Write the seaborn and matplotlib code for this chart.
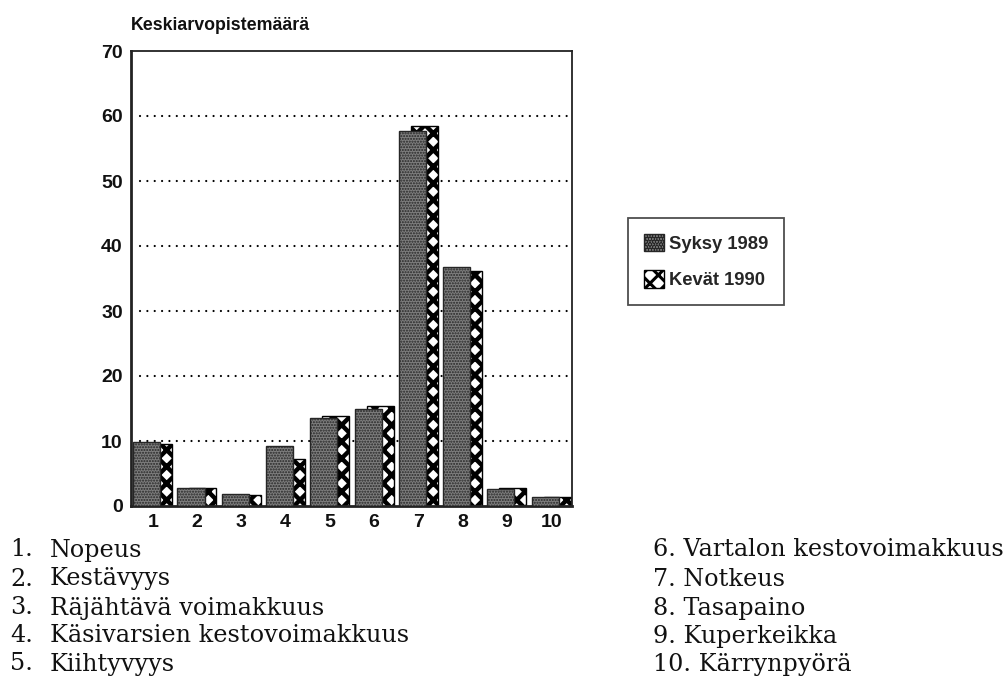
import numpy as np
import pandas as pd
import matplotlib
matplotlib.use("Agg")
import matplotlib.pyplot as plt
from matplotlib.patches import Patch
import seaborn as sns

# Test items (x-axis categories) and mean scores per measurement round
categories = ["1", "2", "3", "4", "5", "6", "7", "8", "9", "10"]
syksy_1989 = [9.9, 2.7, 1.9, 9.2, 13.6, 14.9, 57.7, 36.8, 2.6, 1.4]
kevat_1990 = [9.6, 2.8, 1.7, 7.2, 13.9, 15.4, 58.5, 36.2, 2.8, 1.4]
series_names = ["Syksy 1989", "Kevät 1990"]
y_ticks = [0, 10, 20, 30, 40, 50, 60, 70]
y_title = "Keskiarvopistemäärä"
items_left = ["Nopeus", "Kestävyys", "Räjähtävä voimakkuus",
              "Käsivarsien kestovoimakkuus", "Kiihtyvyys"]
items_right = ["Vartalon kestovoimakkuus", "Notkeus", "Tasapaino",
               "Kuperkeikka", "Kärrynpyörä"]

sns.set_theme(style="white")
plt.rcParams["font.family"] = ["Liberation Sans", "DejaVu Sans"]

W, H = 1007, 679
fig = plt.figure(figsize=(W / 100, H / 100), dpi=100)
ax = fig.add_axes([131 / W, 1 - 506 / H, (572 - 131) / W, (506 - 51) / H])

idx = np.arange(len(categories))
offset = 0.135
bar_w = 0.61

df = pd.DataFrame({
    "pos_s": idx - offset, "pos_k": idx + offset,
    "syksy": syksy_1989, "kevat": kevat_1990,
})

style_s = dict(facecolor="#7e7e7e", edgecolor="#262626", hatch="......", linewidth=1.0)
style_k = dict(facecolor="white", edgecolor="black", hatch="xx", linewidth=1.0)

# Spring bars sit behind the autumn bars (overlapping clusters)
with plt.rc_context({"hatch.linewidth": 3.2}):
    sns.barplot(data=df, x="pos_k", y="kevat", native_scale=True, width=bar_w,
                errorbar=None, ax=ax, zorder=2, **style_k)
with plt.rc_context({"hatch.linewidth": 1.0}):
    sns.barplot(data=df, x="pos_s", y="syksy", native_scale=True, width=bar_w,
                errorbar=None, ax=ax, zorder=3, **style_s)

ax.set_xlim(-0.49, 9.47)
ax.set_ylim(0, 70)
ax.set_xticks(idx, categories)
ax.set_yticks(y_ticks)
ax.set_xlabel("")
ax.set_ylabel("")
ax.tick_params(axis="both", length=0, labelsize=14, pad=6)
for lab in ax.get_xticklabels() + ax.get_yticklabels():
    lab.set_fontweight("bold")
    lab.set_color("#111111")

# dotted horizontal reference lines
for y in y_ticks[1:-1]:
    ax.axhline(y, xmin=0.02, xmax=1, color="black", linewidth=1.6,
               linestyle=(0, (0.01, 3.3)), dash_capstyle="round", zorder=1)

for side, lw in [("left", 2.0), ("bottom", 2.0), ("top", 1.3), ("right", 1.3)]:
    ax.spines[side].set_visible(True)
    ax.spines[side].set_color("#222222")
    ax.spines[side].set_linewidth(lw)

fig.text(131 / W, 1 - 25 / H, y_title, fontsize=12.8, fontweight="bold",
         ha="left", va="center", color="#111111")

# legend
handles = [Patch(**style_s), Patch(**style_k)]
with plt.rc_context({"hatch.linewidth": 2.2}):
    leg = fig.legend(handles, series_names, loc="upper left",
                     bbox_to_anchor=(628 / W, 1 - 218 / H), borderaxespad=0,
                     frameon=True, fancybox=False, shadow=False,
                     prop={"family": "Liberation Sans", "weight": "bold", "size": 13.2},
                     handlelength=1.1, handleheight=1.1, handletextpad=0.3,
                     labelspacing=0.95, borderpad=0.85)
leg.get_frame().set_edgecolor("#222222")
leg.get_frame().set_linewidth(1.3)

# item explanations below the chart
serif = ["DejaVu Serif"]
row_y = [550, 579, 608, 636, 664]
for i, (name, y) in enumerate(zip(items_left, row_y)):
    fig.text(10 / W, 1 - y / H, f"{i + 1}.", fontsize=17.2, family=serif,
             ha="left", va="center", color="#111111")
    fig.text(50 / W, 1 - y / H, name, fontsize=17.2, family=serif,
             ha="left", va="center", color="#111111")
for i, (name, y) in enumerate(zip(items_right, row_y)):
    fig.text(653 / W, 1 - y / H, f"{i + 6}. {name}", fontsize=17.2, family=serif,
             ha="left", va="center", color="#111111")

fig.savefig("out.png", dpi=100, facecolor="white")
